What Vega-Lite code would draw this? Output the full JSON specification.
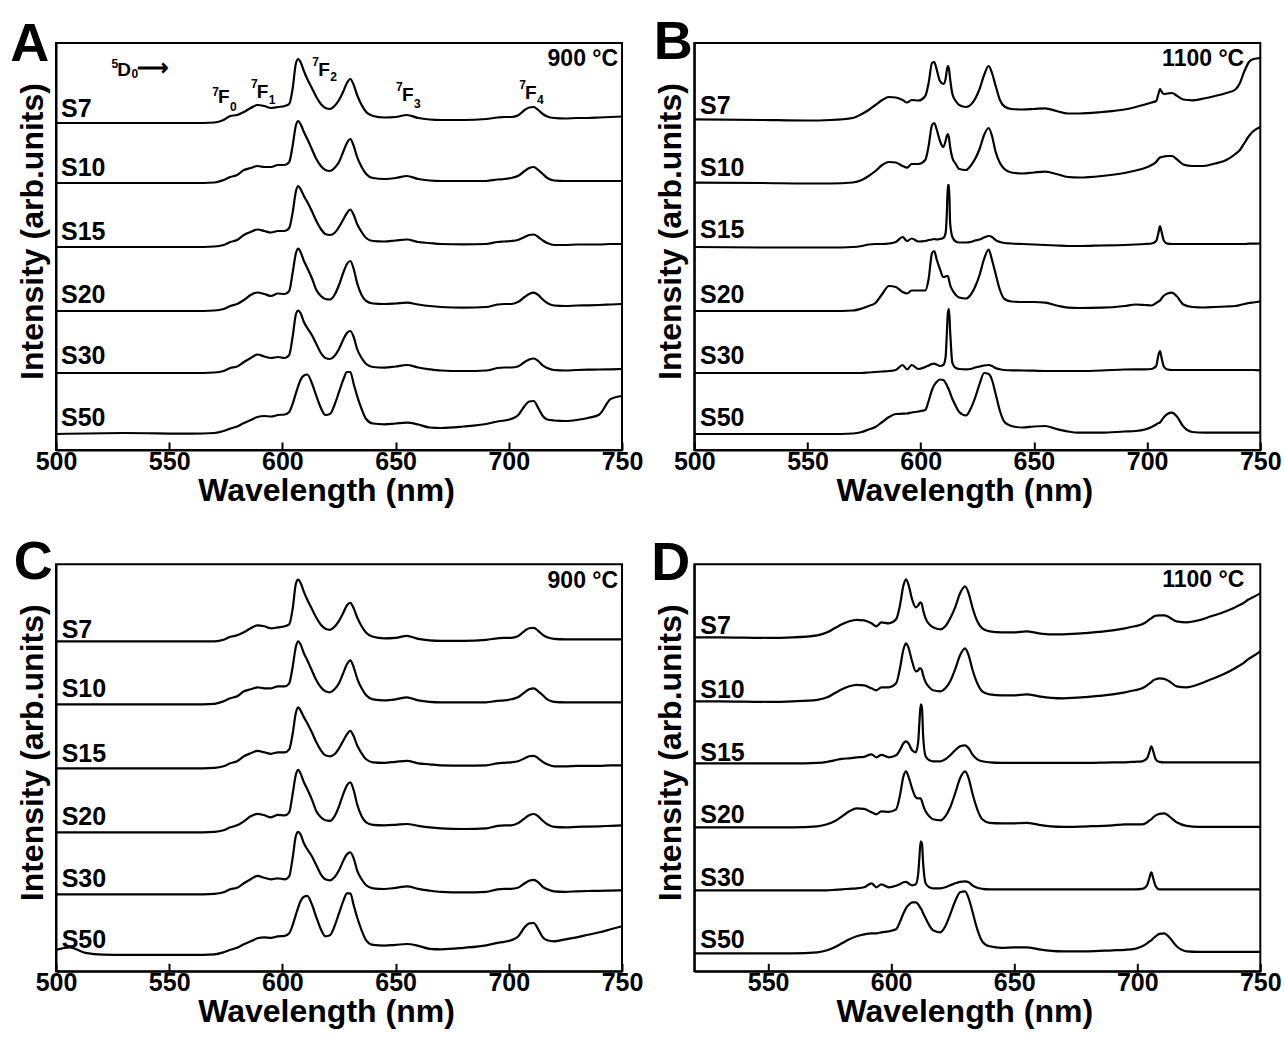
{
"$schema":"https://vega.github.io/schema/vega-lite/v6.json",
"background":"white",
"padding":{"left":9,"top":15,"right":5,"bottom":5},
"columns":2,
"bounds":"flush",
"spacing":{"row":114.3,"column":72.3},
"config":{
 "font":"Liberation Sans",
 "view":{"stroke":"black","strokeWidth":2},
 "axis":{"domainColor":"black","domainWidth":2,"tickColor":"black","tickWidth":2,"labelFontSize":25,"labelFontWeight":"bold","labelColor":"black","titleFontSize":32,"titleFontWeight":"bold","titleColor":"black","grid":false,"labelFlush":false},
 "axisX":{"tickSize":-8,"labelPadding":7,"titlePadding":1,"titleX":270},
 "axisY":{"ticks":false,"labels":false,"titlePadding":7,"titleY":188}
},
"datasets":{
"A":[
{"w":500,"S7":327,"S10":267,"S15":203,"S20":139,"S30":77,"S50":16},
{"w":530,"S7":327,"S10":267,"S15":203,"S20":139,"S30":77,"S50":17},
{"w":560,"S7":327,"S10":267,"S15":203,"S20":139,"S30":77,"S50":16.3},
{"w":570,"S7":327.5,"S10":267.5,"S15":203.5,"S20":139.5,"S30":77.5,"S50":17},
{"w":574,"S7":330,"S10":270,"S15":205,"S20":141,"S30":79,"S50":19},
{"w":577,"S7":334,"S10":273,"S15":208,"S20":144,"S30":82,"S50":21.5},
{"w":580,"S7":335,"S10":275,"S15":210,"S20":146,"S30":83.5,"S50":23.5},
{"w":583,"S7":338,"S10":280,"S15":215,"S20":150,"S30":88,"S50":27},
{"w":586,"S7":342,"S10":282,"S15":218,"S20":155,"S30":92,"S50":30},
{"w":589,"S7":345,"S10":284,"S15":220.5,"S20":157.5,"S30":95.5,"S50":33},
{"w":592,"S7":344,"S10":283,"S15":219,"S20":156,"S30":93.5,"S50":34},
{"w":595,"S7":342,"S10":283,"S15":217.5,"S20":154,"S30":92,"S50":33.5},
{"w":598,"S7":343,"S10":285,"S15":219,"S20":156.5,"S30":93,"S50":35},
{"w":601,"S7":344,"S10":285,"S15":219,"S20":156,"S30":92,"S50":35.5},
{"w":603,"S7":346,"S10":288,"S15":222,"S20":159,"S30":95,"S50":38},
{"w":604.5,"S7":361,"S10":304,"S15":237,"S20":177,"S30":113,"S50":46},
{"w":606,"S7":387,"S10":325,"S15":259,"S20":197,"S30":136,"S50":57},
{"w":607,"S7":391,"S10":329,"S15":264,"S20":201.5,"S30":139.5,"S50":64},
{"w":608,"S7":388,"S10":326,"S15":261,"S20":198,"S30":137,"S50":70},
{"w":609.5,"S7":379,"S10":318,"S15":254,"S20":189,"S30":128,"S50":74.5},
{"w":611,"S7":371,"S10":311,"S15":248,"S20":182,"S30":122,"S50":75.5},
{"w":613,"S7":362,"S10":301,"S15":239,"S20":172,"S30":115,"S50":67},
{"w":615,"S7":353,"S10":291,"S15":229,"S20":160,"S30":106,"S50":54},
{"w":617,"S7":346,"S10":284,"S15":221,"S20":154,"S30":97,"S50":42},
{"w":619,"S7":342,"S10":280,"S15":216,"S20":151,"S30":92,"S50":35},
{"w":621,"S7":341,"S10":279,"S15":215,"S20":150.5,"S30":91,"S50":36},
{"w":623,"S7":344,"S10":282,"S15":217,"S20":155,"S30":94,"S50":45},
{"w":625,"S7":350,"S10":288,"S15":223,"S20":165,"S30":101,"S50":58},
{"w":627,"S7":359,"S10":299,"S15":231,"S20":178,"S30":111,"S50":71},
{"w":628.5,"S7":367,"S10":307,"S15":237,"S20":186,"S30":117,"S50":78},
{"w":630,"S7":371,"S10":311,"S15":240.5,"S20":189,"S30":119,"S50":78},
{"w":631.5,"S7":365,"S10":304,"S15":235,"S20":181,"S30":113,"S50":66},
{"w":633,"S7":355,"S10":293,"S15":226,"S20":167,"S30":101,"S50":54},
{"w":635,"S7":345,"S10":283,"S15":218,"S20":155,"S30":92,"S50":41},
{"w":637,"S7":338,"S10":276,"S15":212,"S20":149,"S30":86,"S50":31},
{"w":640,"S7":334,"S10":272,"S15":209,"S20":146.5,"S30":83,"S50":26.5},
{"w":645,"S7":332.5,"S10":271,"S15":208.5,"S20":146,"S30":82.3,"S50":25.7},
{"w":650,"S7":333,"S10":272,"S15":209.5,"S20":146.5,"S30":83.5,"S50":26.5},
{"w":655,"S7":335,"S10":274,"S15":210.5,"S20":147.3,"S30":85,"S50":27.3},
{"w":660,"S7":332,"S10":271,"S15":208,"S20":145.5,"S30":82.5,"S50":25.5},
{"w":665,"S7":330.5,"S10":269.5,"S15":207,"S20":144,"S30":80.7,"S50":22.5},
{"w":670,"S7":330,"S10":269,"S15":206,"S20":143,"S30":79.5,"S50":22},
{"w":680,"S7":330,"S10":269,"S15":205.7,"S20":142.3,"S30":79,"S50":23.5},
{"w":690,"S7":331,"S10":269,"S15":206,"S20":143,"S30":79.5,"S50":26},
{"w":695,"S7":332.5,"S10":270.5,"S15":208,"S20":145.5,"S30":82,"S50":28.5},
{"w":698,"S7":333,"S10":271,"S15":208.5,"S20":146,"S30":82.5,"S50":29.5},
{"w":701,"S7":333,"S10":272,"S15":209,"S20":146,"S30":82.5,"S50":31},
{"w":704,"S7":334.5,"S10":274,"S15":210,"S20":148,"S30":83.5,"S50":34.5},
{"w":707,"S7":340,"S10":279,"S15":213,"S20":153,"S30":88,"S50":44},
{"w":709,"S7":342.5,"S10":282,"S15":215,"S20":156,"S30":90.5,"S50":48.5},
{"w":711,"S7":343,"S10":283,"S15":215.5,"S20":157.3,"S30":91.5,"S50":49},
{"w":713,"S7":340,"S10":280,"S15":213,"S20":155,"S30":89,"S50":42},
{"w":715,"S7":336,"S10":276,"S15":209.5,"S20":150.5,"S30":84.5,"S50":34},
{"w":717,"S7":333.5,"S10":272,"S15":207,"S20":147,"S30":82,"S50":30.5},
{"w":720,"S7":332,"S10":269.5,"S15":205,"S20":144.5,"S30":80,"S50":29.5},
{"w":725,"S7":331.5,"S10":269,"S15":205,"S20":144,"S30":79.5,"S50":29},
{"w":730,"S7":332,"S10":269,"S15":205.5,"S20":144.5,"S30":80,"S50":30},
{"w":735,"S7":332,"S10":269,"S15":205.5,"S20":144.7,"S30":80.3,"S50":32},
{"w":740,"S7":332.5,"S10":269,"S15":205.5,"S20":145,"S30":80.5,"S50":35.5},
{"w":745,"S7":333,"S10":269,"S15":206,"S20":145.5,"S30":80.7,"S50":51},
{"w":750,"S7":333.5,"S10":269,"S15":206,"S20":146,"S30":81,"S50":54}
],
"C":[
{"w":500,"S7":330,"S10":267,"S15":203,"S20":139,"S30":77,"S50":21.5},
{"w":506,"S7":330,"S10":267,"S15":203,"S20":139,"S30":77,"S50":24},
{"w":513,"S7":330,"S10":267,"S15":203,"S20":139,"S30":77,"S50":18.5},
{"w":521,"S7":330,"S10":267,"S15":203,"S20":139,"S30":77,"S50":16.7},
{"w":530,"S7":330,"S10":267,"S15":203,"S20":139,"S30":77,"S50":16.5},
{"w":560,"S7":330,"S10":267,"S15":203,"S20":139,"S30":77,"S50":16.5},
{"w":570,"S7":330,"S10":267.5,"S15":203.5,"S20":139.5,"S30":77.5,"S50":17},
{"w":574,"S7":331.5,"S10":270,"S15":205,"S20":141,"S30":79,"S50":19},
{"w":577,"S7":334.5,"S10":273,"S15":208,"S20":144,"S30":82,"S50":21.5},
{"w":580,"S7":336,"S10":275,"S15":210,"S20":146,"S30":83.5,"S50":23.5},
{"w":583,"S7":339,"S10":280,"S15":215,"S20":150,"S30":88,"S50":27},
{"w":586,"S7":343,"S10":282,"S15":218,"S20":155,"S30":92,"S50":30},
{"w":589,"S7":346,"S10":284,"S15":220.5,"S20":157.5,"S30":95.5,"S50":33},
{"w":592,"S7":345,"S10":283,"S15":219,"S20":156,"S30":93.5,"S50":34},
{"w":595,"S7":343,"S10":283,"S15":217.5,"S20":154,"S30":92,"S50":33.5},
{"w":598,"S7":344,"S10":285,"S15":219,"S20":156.5,"S30":93,"S50":35},
{"w":601,"S7":345,"S10":285,"S15":219,"S20":156,"S30":92,"S50":35.5},
{"w":603,"S7":347,"S10":288,"S15":222,"S20":159,"S30":95,"S50":38},
{"w":604.5,"S7":362,"S10":304,"S15":237,"S20":177,"S30":113,"S50":46},
{"w":606,"S7":388,"S10":325,"S15":259,"S20":197,"S30":136,"S50":57},
{"w":607,"S7":391.7,"S10":330,"S15":264,"S20":201.5,"S30":139.5,"S50":64},
{"w":608,"S7":388.5,"S10":327,"S15":261,"S20":198,"S30":137,"S50":70},
{"w":609.5,"S7":379.5,"S10":318,"S15":254,"S20":189,"S30":128,"S50":74.5},
{"w":611,"S7":371.5,"S10":311,"S15":248,"S20":182,"S30":122,"S50":75.5},
{"w":613,"S7":362.5,"S10":301,"S15":239,"S20":172,"S30":115,"S50":67},
{"w":615,"S7":353.5,"S10":291,"S15":229,"S20":160,"S30":106,"S50":54},
{"w":617,"S7":346.5,"S10":284,"S15":221,"S20":154,"S30":97,"S50":42},
{"w":619,"S7":342.5,"S10":280,"S15":216,"S20":151,"S30":92,"S50":35},
{"w":621,"S7":341.5,"S10":279,"S15":215,"S20":150.5,"S30":91,"S50":36},
{"w":623,"S7":344.5,"S10":282,"S15":217,"S20":155,"S30":94,"S50":45},
{"w":625,"S7":350.5,"S10":288,"S15":223,"S20":165,"S30":101,"S50":58},
{"w":627,"S7":359,"S10":299,"S15":231,"S20":178,"S30":111,"S50":71},
{"w":628.5,"S7":366,"S10":307,"S15":237,"S20":186,"S30":117,"S50":78},
{"w":630,"S7":368.5,"S10":311,"S15":240.5,"S20":189,"S30":119,"S50":78},
{"w":631.5,"S7":363,"S10":304,"S15":235,"S20":181,"S30":113,"S50":66},
{"w":633,"S7":354,"S10":293,"S15":226,"S20":167,"S30":101,"S50":54},
{"w":635,"S7":345,"S10":283,"S15":218,"S20":155,"S30":92,"S50":41},
{"w":637,"S7":338.5,"S10":276,"S15":212,"S20":149,"S30":86,"S50":31},
{"w":640,"S7":334.5,"S10":272,"S15":209,"S20":146.5,"S30":83,"S50":26.5},
{"w":645,"S7":333,"S10":271,"S15":208.5,"S20":146,"S30":82.3,"S50":25.7},
{"w":650,"S7":333.5,"S10":272,"S15":209.5,"S20":146.5,"S30":83.5,"S50":26.5},
{"w":655,"S7":335.5,"S10":274,"S15":210.5,"S20":147.3,"S30":85,"S50":27.3},
{"w":660,"S7":332.5,"S10":271,"S15":208,"S20":145.5,"S30":82.5,"S50":25.5},
{"w":665,"S7":331,"S10":269.5,"S15":207,"S20":144,"S30":80.7,"S50":22.5},
{"w":670,"S7":330.5,"S10":269,"S15":206,"S20":143,"S30":79.5,"S50":22},
{"w":680,"S7":330.5,"S10":269,"S15":205.7,"S20":142.3,"S30":79,"S50":23.5},
{"w":690,"S7":331.5,"S10":269,"S15":206,"S20":143,"S30":79.5,"S50":26},
{"w":695,"S7":333,"S10":270.5,"S15":208,"S20":145.5,"S30":82,"S50":28.5},
{"w":698,"S7":333.5,"S10":271,"S15":208.5,"S20":146,"S30":82.5,"S50":29.5},
{"w":701,"S7":333.5,"S10":272,"S15":209,"S20":146,"S30":82.5,"S50":31},
{"w":704,"S7":335,"S10":274,"S15":210,"S20":148,"S30":83.5,"S50":34.5},
{"w":707,"S7":340.5,"S10":279,"S15":213,"S20":153,"S30":88,"S50":44},
{"w":709,"S7":343,"S10":282,"S15":215,"S20":156,"S30":90.5,"S50":48},
{"w":711,"S7":343.5,"S10":283,"S15":215.5,"S20":157.3,"S30":91.5,"S50":48.3},
{"w":713,"S7":340.5,"S10":280,"S15":213,"S20":155,"S30":89,"S50":42},
{"w":715,"S7":336.5,"S10":276,"S15":209.5,"S20":150.5,"S30":84.5,"S50":34},
{"w":717,"S7":334,"S10":272,"S15":207,"S20":147,"S30":82,"S50":31},
{"w":720,"S7":332.5,"S10":269.5,"S15":205,"S20":144.5,"S30":80,"S50":30},
{"w":725,"S7":332,"S10":269,"S15":205,"S20":144,"S30":79.5,"S50":32},
{"w":730,"S7":332,"S10":269,"S15":205.5,"S20":144.5,"S30":80,"S50":34},
{"w":735,"S7":332,"S10":269,"S15":205.5,"S20":144.7,"S30":80.3,"S50":36.5},
{"w":740,"S7":332,"S10":269,"S15":205.5,"S20":145,"S30":80.5,"S50":39},
{"w":745,"S7":332,"S10":269,"S15":206,"S20":145.5,"S30":80.7,"S50":42},
{"w":750,"S7":332,"S10":269,"S15":206,"S20":146,"S30":81,"S50":45}
],
"B":[
{"w":500,"S7":330.7,"S10":267.3,"S15":203,"S20":139,"S30":77,"S50":16},
{"w":530,"S7":330,"S10":267,"S15":202.5,"S20":139,"S30":77,"S50":16},
{"w":550,"S7":329.5,"S10":266.5,"S15":202.5,"S20":139,"S30":77,"S50":16},
{"w":560,"S7":330,"S10":266.5,"S15":202.5,"S20":139,"S30":77,"S50":16},
{"w":570,"S7":332,"S10":267.5,"S15":203,"S20":139.5,"S30":77,"S50":16.5},
{"w":574,"S7":336,"S10":270,"S15":204,"S20":141.5,"S30":77,"S50":18},
{"w":577,"S7":340,"S10":274,"S15":205.5,"S20":144,"S30":77.5,"S50":20.5},
{"w":580,"S7":345,"S10":279,"S15":206,"S20":147,"S30":78,"S50":23},
{"w":583,"S7":350,"S10":285,"S15":206,"S20":156,"S30":78.5,"S50":28},
{"w":586,"S7":353,"S10":288,"S15":206.5,"S20":164,"S30":79,"S50":33},
{"w":589,"S7":352.5,"S10":287.5,"S15":208,"S20":163,"S30":80,"S50":36},
{"w":592,"S7":350,"S10":284,"S15":213,"S20":158,"S30":85,"S50":36.3},
{"w":594,"S7":347.5,"S10":282.3,"S15":209,"S20":156.5,"S30":80.5,"S50":36.5},
{"w":596,"S7":350,"S10":286,"S15":211.5,"S20":159.5,"S30":85,"S50":37.5},
{"w":599,"S7":349.5,"S10":286,"S15":208.5,"S20":159.5,"S30":81,"S50":38.5},
{"w":602,"S7":354,"S10":290,"S15":209,"S20":159.5,"S30":83,"S50":40},
{"w":603.5,"S7":367,"S10":304,"S15":210,"S20":171,"S30":84.5,"S50":49},
{"w":605,"S7":387,"S10":325,"S15":210.5,"S20":197,"S30":86,"S50":60},
{"w":606,"S7":388,"S10":327,"S15":211,"S20":199,"S30":86.3,"S50":65},
{"w":607,"S7":381,"S10":321,"S15":210.5,"S20":191,"S30":85.5,"S50":68},
{"w":608.5,"S7":369,"S10":309,"S15":211,"S20":181,"S30":84,"S50":70.5},
{"w":610,"S7":366,"S10":303,"S15":212,"S20":173,"S30":85,"S50":70},
{"w":611,"S7":371,"S10":309,"S15":217,"S20":173.5,"S30":93,"S50":67},
{"w":611.5,"S7":379,"S10":314,"S15":234,"S20":174,"S30":114,"S50":65},
{"w":612,"S7":384,"S10":316,"S15":265,"S20":174,"S30":137,"S50":62.5},
{"w":612.5,"S7":381,"S10":312,"S15":265,"S20":170,"S30":141,"S50":60},
{"w":613,"S7":371,"S10":303,"S15":227,"S20":165,"S30":119,"S50":57},
{"w":614,"S7":356,"S10":292,"S15":213,"S20":160,"S30":87,"S50":51},
{"w":615.5,"S7":349,"S10":286,"S15":208.5,"S20":155,"S30":82,"S50":44},
{"w":617,"S7":345,"S10":281,"S15":207.5,"S20":152.5,"S30":81,"S50":38},
{"w":620,"S7":343,"S10":280,"S15":207.5,"S20":151.5,"S30":80.7,"S50":34.5},
{"w":622,"S7":345,"S10":284,"S15":208,"S20":155,"S30":81,"S50":41},
{"w":624,"S7":351,"S10":291,"S15":209.5,"S20":163,"S30":82.5,"S50":52},
{"w":626,"S7":361,"S10":301,"S15":210.5,"S20":175,"S30":83.5,"S50":66},
{"w":628,"S7":375,"S10":315,"S15":212.5,"S20":191,"S30":84.5,"S50":77},
{"w":630,"S7":384,"S10":322,"S15":214,"S20":200.5,"S30":85,"S50":76},
{"w":631.5,"S7":377,"S10":314,"S15":213,"S20":190,"S30":84,"S50":70},
{"w":633,"S7":365,"S10":299,"S15":210,"S20":177,"S30":82,"S50":57},
{"w":635,"S7":350,"S10":287,"S15":208,"S20":160,"S30":80.7,"S50":39},
{"w":637,"S7":343.5,"S10":281,"S15":207,"S20":151,"S30":80,"S50":28},
{"w":640,"S7":341,"S10":277.5,"S15":206.5,"S20":148.5,"S30":79.7,"S50":24},
{"w":645,"S7":340.5,"S10":276.5,"S15":206,"S20":148,"S30":79.5,"S50":22.5},
{"w":650,"S7":341,"S10":277.5,"S15":205.5,"S20":148,"S30":79.3,"S50":23.5},
{"w":655,"S7":341.7,"S10":278.3,"S15":205,"S20":147.3,"S30":79,"S50":24},
{"w":660,"S7":339,"S10":276,"S15":204.5,"S20":144.5,"S30":79,"S50":21},
{"w":665,"S7":336.5,"S10":273,"S15":204,"S20":142.3,"S30":79,"S50":18.5},
{"w":670,"S7":336.5,"S10":272.5,"S15":204,"S20":142,"S30":79,"S50":17.3},
{"w":680,"S7":338,"S10":274,"S15":204.5,"S20":142.3,"S30":79.5,"S50":17.3},
{"w":690,"S7":340.5,"S10":277,"S15":205,"S20":144,"S30":80.5,"S50":18.5},
{"w":695,"S7":343,"S10":279.5,"S15":205.5,"S20":145.5,"S30":80.7,"S50":19},
{"w":699,"S7":345.5,"S10":282,"S15":206,"S20":145,"S30":80.7,"S50":20.5},
{"w":702,"S7":347.5,"S10":285,"S15":206.5,"S20":144.5,"S30":81,"S50":23},
{"w":704,"S7":349,"S10":288,"S15":209,"S20":147,"S30":84,"S50":25.5},
{"w":705,"S7":356,"S10":291,"S15":217,"S20":148.5,"S30":95,"S50":27},
{"w":705.7,"S7":361,"S10":292.5,"S15":224,"S20":149.5,"S30":99,"S50":27.5},
{"w":706.5,"S7":358,"S10":293,"S15":217,"S20":152,"S30":91,"S50":30},
{"w":707.5,"S7":356,"S10":293.5,"S15":209,"S20":154.5,"S30":83,"S50":33},
{"w":709,"S7":356.5,"S10":294,"S15":206.3,"S20":156.5,"S30":80.5,"S50":36},
{"w":711,"S7":357,"S10":294,"S15":206,"S20":157.3,"S30":80,"S50":37.3},
{"w":713,"S7":354.5,"S10":291,"S15":206,"S20":154,"S30":80,"S50":34},
{"w":716,"S7":350.5,"S10":285.5,"S15":206,"S20":145.5,"S30":80,"S50":23.5},
{"w":720,"S7":349.7,"S10":284,"S15":206,"S20":143,"S30":80,"S50":18},
{"w":725,"S7":351.5,"S10":284,"S15":206,"S20":142.5,"S30":80,"S50":17.3},
{"w":730,"S7":354,"S10":286.5,"S15":206,"S20":143,"S30":80,"S50":17.3},
{"w":735,"S7":357,"S10":290,"S15":206,"S20":143.5,"S30":80,"S50":17.3},
{"w":739,"S7":360.5,"S10":296,"S15":206,"S20":144,"S30":80,"S50":17.3},
{"w":741,"S7":367,"S10":300,"S15":206,"S20":145,"S30":80,"S50":17.3},
{"w":743,"S7":379,"S10":307,"S15":206,"S20":146,"S30":80,"S50":17.3},
{"w":745,"S7":388,"S10":314,"S15":206.3,"S20":147,"S30":80,"S50":17.3},
{"w":747,"S7":391,"S10":319,"S15":206.3,"S20":147.5,"S30":80,"S50":17.3},
{"w":750,"S7":392,"S10":323,"S15":206.5,"S20":148.5,"S30":79.7,"S50":17.3}
],
"D":[
{"w":520,"S7":334,"S10":270,"S15":208,"S20":144,"S30":81,"S50":18},
{"w":530,"S7":334,"S10":270,"S15":208,"S20":144,"S30":81,"S50":18},
{"w":550,"S7":333.5,"S10":269.5,"S15":208,"S20":144,"S30":81,"S50":18},
{"w":560,"S7":334,"S10":270,"S15":208,"S20":144,"S30":81,"S50":18},
{"w":570,"S7":336,"S10":271.5,"S15":208.5,"S20":145,"S30":81,"S50":19},
{"w":574,"S7":339,"S10":274,"S15":209.5,"S20":147,"S30":81,"S50":21},
{"w":577,"S7":343,"S10":278,"S15":211,"S20":150,"S30":81.5,"S50":24},
{"w":580,"S7":347,"S10":282,"S15":212.5,"S20":155,"S30":82,"S50":28},
{"w":583,"S7":350,"S10":285,"S15":213,"S20":160,"S30":82.5,"S50":32},
{"w":586,"S7":351.5,"S10":286.5,"S15":214,"S20":163,"S30":83,"S50":35},
{"w":589,"S7":351,"S10":286,"S15":214.5,"S20":162.5,"S30":84,"S50":37},
{"w":592,"S7":348,"S10":283,"S15":217,"S20":159,"S30":88,"S50":38},
{"w":594,"S7":345,"S10":281,"S15":214,"S20":157,"S30":84,"S50":38},
{"w":596,"S7":349,"S10":284,"S15":216.5,"S20":160,"S30":87,"S50":39},
{"w":599,"S7":348,"S10":284,"S15":214,"S20":159.5,"S30":84,"S50":40},
{"w":602,"S7":352,"S10":288,"S15":216,"S20":162,"S30":85.5,"S50":42},
{"w":603.5,"S7":365,"S10":302,"S15":221,"S20":175,"S30":87,"S50":49},
{"w":605,"S7":386,"S10":322,"S15":228,"S20":195,"S30":89,"S50":58},
{"w":606,"S7":392,"S10":328,"S15":230,"S20":200,"S30":89.5,"S50":63},
{"w":607,"S7":387,"S10":324,"S15":228,"S20":195,"S30":88,"S50":66},
{"w":608.5,"S7":372,"S10":310,"S15":221,"S20":183,"S30":86,"S50":69},
{"w":610,"S7":364,"S10":300,"S15":219,"S20":174,"S30":87,"S50":69},
{"w":611,"S7":366,"S10":301,"S15":230,"S20":173,"S30":98,"S50":67},
{"w":611.5,"S7":368,"S10":303,"S15":250,"S20":173,"S30":115,"S50":65},
{"w":612,"S7":369,"S10":303,"S15":267,"S20":173,"S30":130,"S50":63},
{"w":612.5,"S7":367,"S10":301,"S15":264,"S20":170,"S30":128,"S50":61},
{"w":613,"S7":361,"S10":296,"S15":235,"S20":166,"S30":108,"S50":58},
{"w":614,"S7":353,"S10":289,"S15":215,"S20":160,"S30":88,"S50":53},
{"w":615.5,"S7":347,"S10":284,"S15":211,"S20":155,"S30":84,"S50":46},
{"w":617,"S7":344,"S10":281,"S15":210,"S20":152,"S30":83,"S50":41},
{"w":620,"S7":342,"S10":280,"S15":210,"S20":151,"S30":83,"S50":39},
{"w":622,"S7":345,"S10":283,"S15":212,"S20":155,"S30":84,"S50":45},
{"w":624,"S7":353,"S10":290,"S15":216,"S20":164,"S30":86,"S50":57},
{"w":626,"S7":364,"S10":302,"S15":221,"S20":178,"S30":88,"S50":70},
{"w":628,"S7":378,"S10":316,"S15":225,"S20":193,"S30":89.5,"S50":79},
{"w":630,"S7":385,"S10":323,"S15":226,"S20":200,"S30":90,"S50":80},
{"w":631.5,"S7":378,"S10":316,"S15":223,"S20":193,"S30":89,"S50":73},
{"w":633,"S7":364,"S10":302,"S15":217,"S20":178,"S30":86,"S50":60},
{"w":635,"S7":350,"S10":288,"S15":212,"S20":162,"S30":83.5,"S50":42},
{"w":637,"S7":343,"S10":280,"S15":210,"S20":152,"S30":82.5,"S50":30},
{"w":640,"S7":340,"S10":277,"S15":209,"S20":148.5,"S30":82,"S50":25},
{"w":645,"S7":339,"S10":276,"S15":208.5,"S20":148,"S30":82,"S50":23.5},
{"w":650,"S7":339,"S10":276,"S15":208.5,"S20":148,"S30":82,"S50":24},
{"w":655,"S7":340,"S10":277,"S15":208.5,"S20":148.5,"S30":82,"S50":24},
{"w":660,"S7":338,"S10":275,"S15":208.5,"S20":146.5,"S30":82,"S50":22},
{"w":665,"S7":337,"S10":273.5,"S15":208.5,"S20":145,"S30":82,"S50":20.5},
{"w":670,"S7":337,"S10":273,"S15":208.5,"S20":144.5,"S30":82,"S50":20},
{"w":680,"S7":338.5,"S10":274.5,"S15":208.5,"S20":145,"S30":82,"S50":20},
{"w":690,"S7":341,"S10":277,"S15":209,"S20":146,"S30":82,"S50":21},
{"w":695,"S7":343,"S10":279,"S15":209,"S20":147,"S30":82,"S50":21.5},
{"w":699,"S7":345,"S10":281,"S15":209.5,"S20":147,"S30":82,"S50":22.5},
{"w":702,"S7":347,"S10":283,"S15":210,"S20":147,"S30":82.5,"S50":25},
{"w":704,"S7":350,"S10":286,"S15":213,"S20":149,"S30":86,"S50":28},
{"w":705,"S7":352,"S10":288,"S15":220,"S20":151,"S30":94,"S50":30},
{"w":705.7,"S7":353,"S10":289,"S15":225,"S20":152,"S30":99,"S50":31},
{"w":706.5,"S7":354.5,"S10":291,"S15":220,"S20":154,"S30":93,"S50":33},
{"w":707.5,"S7":355.5,"S10":292,"S15":212,"S20":156,"S30":85,"S50":35},
{"w":709,"S7":356,"S10":293,"S15":209.5,"S20":157.5,"S30":82,"S50":37.5},
{"w":711,"S7":356,"S10":292.5,"S15":209,"S20":158,"S30":82,"S50":38},
{"w":713,"S7":354,"S10":290,"S15":209,"S20":155,"S30":82,"S50":34},
{"w":716,"S7":350,"S10":285,"S15":209,"S20":149,"S30":82,"S50":25},
{"w":720,"S7":349,"S10":284,"S15":209,"S20":145.5,"S30":82,"S50":20},
{"w":725,"S7":351,"S10":287,"S15":209,"S20":144.5,"S30":82,"S50":19.5},
{"w":730,"S7":355,"S10":292,"S15":209,"S20":144.5,"S30":82,"S50":19.5},
{"w":735,"S7":359,"S10":297,"S15":209,"S20":144.5,"S30":82,"S50":19.5},
{"w":739,"S7":363,"S10":302,"S15":209,"S20":144.5,"S30":82,"S50":19.5},
{"w":741,"S7":365.5,"S10":305,"S15":209,"S20":144.5,"S30":82,"S50":19.5},
{"w":743,"S7":368,"S10":308,"S15":209,"S20":144.5,"S30":82,"S50":19.5},
{"w":745,"S7":371.5,"S10":312,"S15":209,"S20":144.5,"S30":82,"S50":19.5},
{"w":747,"S7":374,"S10":315,"S15":209,"S20":144.5,"S30":82,"S50":19.5},
{"w":750,"S7":378,"S10":320,"S15":209,"S20":144.5,"S30":82,"S50":19.5}
]
},
"concat":[
{
 "width":566,"height":407,
 "encoding":{
  "x":{"field":"w","type":"quantitative","scale":{"domain":[500,750],"nice":false,"zero":false},"axis":{"values":[500,550,600,650,700,750],"title":"Wavelength (nm)"}},
  "y":{"field":"y","type":"quantitative","scale":{"domain":[0,407],"nice":false,"zero":false},"axis":{"title":"Intensity (arb.units)"}}
 },
 "layer":[
  {"data":{"name":"A"},"transform":[{"fold":["S7","S10","S15","S20","S30","S50"],"as":["series","y"]}],"mark":{"type":"line","color":"black","strokeWidth":2.2,"interpolate":"monotone"},"encoding":{"detail":{"field":"series","type":"nominal"}}},
  {"data":{"values":[{"w":525},{"w":575},{"w":625},{"w":675},{"w":725}]},"mark":{"type":"rule","color":"black","strokeWidth":2},"encoding":{"y":{"datum":0,"type":"quantitative","scale":{"domain":[0,407],"nice":false,"zero":false}},"y2":{"datum":4.5}}},
  {"data":{"values":[{"t":"S7","w":502.2,"y":333},{"t":"S10","w":502.2,"y":274},{"t":"S15","w":502.2,"y":209.7},{"t":"S20","w":502.2,"y":147.3},{"t":"S30","w":502.2,"y":85.7},{"t":"S50","w":502.2,"y":24}]},"mark":{"type":"text","align":"left","baseline":"alphabetic","fontSize":25,"fontWeight":"bold","color":"black"},"encoding":{"text":{"field":"t"}}},
  {"data":{"values":[{"t":"900 °C","w":748.3,"y":384}]},"mark":{"type":"text","align":"right","baseline":"alphabetic","fontSize":23,"fontWeight":"bold","color":"black"},"encoding":{"text":{"field":"t"}}},
  {"data":{"values":[{"t":"A","w":479.8,"y":389.3}]},"mark":{"type":"text","align":"left","baseline":"alphabetic","fontSize":54,"fontWeight":"bold","color":"black"},"encoding":{"text":{"field":"t"}}},
  {"data":{"values":[{"t":"D","w":527.1,"y":374},{"t":"F","w":571.6,"y":347.3},{"t":"F","w":588.7,"y":352.3},{"t":"F","w":615.8,"y":374},{"t":"F","w":652.8,"y":349},{"t":"F","w":707.2,"y":350.7}]},"mark":{"type":"text","align":"left","baseline":"alphabetic","fontSize":19,"fontWeight":"bold","color":"black"},"encoding":{"text":{"field":"t"}}},
  {"data":{"values":[{"t":"5","w":524.5,"y":382.3},{"t":"0","w":533.3,"y":371.7},{"t":"7","w":569.0,"y":354},{"t":"0","w":576.9,"y":339},{"t":"7","w":586.1,"y":362.3},{"t":"1","w":594.0,"y":345.7},{"t":"7","w":613.2,"y":384},{"t":"2","w":621.1,"y":369},{"t":"7","w":650.2,"y":359},{"t":"3","w":658.1,"y":342.3},{"t":"7","w":704.6,"y":360.7},{"t":"4","w":712.5,"y":345.7}]},"mark":{"type":"text","align":"left","baseline":"alphabetic","fontSize":12,"fontWeight":"bold","color":"black"},"encoding":{"text":{"field":"t"}}},
  {"data":{"values":[{"t":"⟶","w":535.8,"y":375}]},"mark":{"type":"text","align":"left","baseline":"alphabetic","fontSize":22,"fontWeight":"bold","color":"black"},"encoding":{"text":{"field":"t"}}}
 ]
},
{
 "width":566,"height":407,
 "encoding":{
  "x":{"field":"w","type":"quantitative","scale":{"domain":[500,750],"nice":false,"zero":false},"axis":{"values":[500,550,600,650,700,750],"title":"Wavelength (nm)"}},
  "y":{"field":"y","type":"quantitative","scale":{"domain":[0,407],"nice":false,"zero":false},"axis":{"title":"Intensity (arb.units)"}}
 },
 "layer":[
  {"data":{"name":"B"},"transform":[{"fold":["S7","S10","S15","S20","S30","S50"],"as":["series","y"]}],"mark":{"type":"line","color":"black","strokeWidth":2.2,"interpolate":"monotone"},"encoding":{"detail":{"field":"series","type":"nominal"}}},
  {"data":{"values":[{"w":525},{"w":575},{"w":625},{"w":675},{"w":725}]},"mark":{"type":"rule","color":"black","strokeWidth":2},"encoding":{"y":{"datum":0,"type":"quantitative","scale":{"domain":[0,407],"nice":false,"zero":false}},"y2":{"datum":4.5}}},
  {"data":{"values":[{"t":"S7","w":502.5,"y":335.7},{"t":"S10","w":502.5,"y":274},{"t":"S15","w":502.5,"y":212.3},{"t":"S20","w":502.5,"y":147.3},{"t":"S30","w":502.5,"y":85.7},{"t":"S50","w":502.5,"y":24}]},"mark":{"type":"text","align":"left","baseline":"alphabetic","fontSize":25,"fontWeight":"bold","color":"black"},"encoding":{"text":{"field":"t"}}},
  {"data":{"values":[{"t":"1100 °C","w":742.9,"y":384}]},"mark":{"type":"text","align":"right","baseline":"alphabetic","fontSize":23,"fontWeight":"bold","color":"black"},"encoding":{"text":{"field":"t"}}},
  {"data":{"values":[{"t":"B","w":482.1,"y":390.6}]},"mark":{"type":"text","align":"left","baseline":"alphabetic","fontSize":54,"fontWeight":"bold","color":"black"},"encoding":{"text":{"field":"t"}}}
 ]
},
{
 "width":566,"height":407,
 "encoding":{
  "x":{"field":"w","type":"quantitative","scale":{"domain":[500,750],"nice":false,"zero":false},"axis":{"values":[500,550,600,650,700,750],"title":"Wavelength (nm)"}},
  "y":{"field":"y","type":"quantitative","scale":{"domain":[0,407],"nice":false,"zero":false},"axis":{"title":"Intensity (arb.units)"}}
 },
 "layer":[
  {"data":{"name":"C"},"transform":[{"fold":["S7","S10","S15","S20","S30","S50"],"as":["series","y"]}],"mark":{"type":"line","color":"black","strokeWidth":2.2,"interpolate":"monotone"},"encoding":{"detail":{"field":"series","type":"nominal"}}},
  {"data":{"values":[{"w":525},{"w":575},{"w":625},{"w":675},{"w":725}]},"mark":{"type":"rule","color":"black","strokeWidth":2},"encoding":{"y":{"datum":0,"type":"quantitative","scale":{"domain":[0,407],"nice":false,"zero":false}},"y2":{"datum":4.5}}},
  {"data":{"values":[{"t":"S7","w":502.5,"y":333.3},{"t":"S10","w":502.5,"y":274},{"t":"S15","w":502.5,"y":209.3},{"t":"S20","w":502.5,"y":146.7},{"t":"S30","w":502.5,"y":84},{"t":"S50","w":502.5,"y":23.3}]},"mark":{"type":"text","align":"left","baseline":"alphabetic","fontSize":25,"fontWeight":"bold","color":"black"},"encoding":{"text":{"field":"t"}}},
  {"data":{"values":[{"t":"900 °C","w":748.3,"y":383.3}]},"mark":{"type":"text","align":"right","baseline":"alphabetic","fontSize":23,"fontWeight":"bold","color":"black"},"encoding":{"text":{"field":"t"}}},
  {"data":{"values":[{"t":"C","w":481.3,"y":391.9}]},"mark":{"type":"text","align":"left","baseline":"alphabetic","fontSize":54,"fontWeight":"bold","color":"black"},"encoding":{"text":{"field":"t"}}}
 ]
},
{
 "width":566,"height":407,
 "encoding":{
  "x":{"field":"w","type":"quantitative","scale":{"domain":[520,750],"nice":false,"zero":false},"axis":{"values":[550,600,650,700,750],"title":"Wavelength (nm)"}},
  "y":{"field":"y","type":"quantitative","scale":{"domain":[0,407],"nice":false,"zero":false},"axis":{"title":"Intensity (arb.units)"}}
 },
 "layer":[
  {"data":{"name":"D"},"transform":[{"fold":["S7","S10","S15","S20","S30","S50"],"as":["series","y"]}],"mark":{"type":"line","color":"black","strokeWidth":2.2,"interpolate":"monotone"},"encoding":{"detail":{"field":"series","type":"nominal"}}},
  {"data":{"values":[{"w":525},{"w":575},{"w":625},{"w":675},{"w":725}]},"mark":{"type":"rule","color":"black","strokeWidth":2},"encoding":{"y":{"datum":0,"type":"quantitative","scale":{"domain":[0,407],"nice":false,"zero":false}},"y2":{"datum":4.5}}},
  {"data":{"values":[{"t":"S7","w":522.4,"y":337},{"t":"S10","w":522.4,"y":273},{"t":"S15","w":522.4,"y":210},{"t":"S20","w":522.4,"y":148},{"t":"S30","w":522.4,"y":85},{"t":"S50","w":522.4,"y":23}]},"mark":{"type":"text","align":"left","baseline":"alphabetic","fontSize":25,"fontWeight":"bold","color":"black"},"encoding":{"text":{"field":"t"}}},
  {"data":{"values":[{"t":"1100 °C","w":743.5,"y":384}]},"mark":{"type":"text","align":"right","baseline":"alphabetic","fontSize":23,"fontWeight":"bold","color":"black"},"encoding":{"text":{"field":"t"}}},
  {"data":{"values":[{"t":"D","w":502.5,"y":391.6}]},"mark":{"type":"text","align":"left","baseline":"alphabetic","fontSize":54,"fontWeight":"bold","color":"black"},"encoding":{"text":{"field":"t"}}}
 ]
}
]
}
